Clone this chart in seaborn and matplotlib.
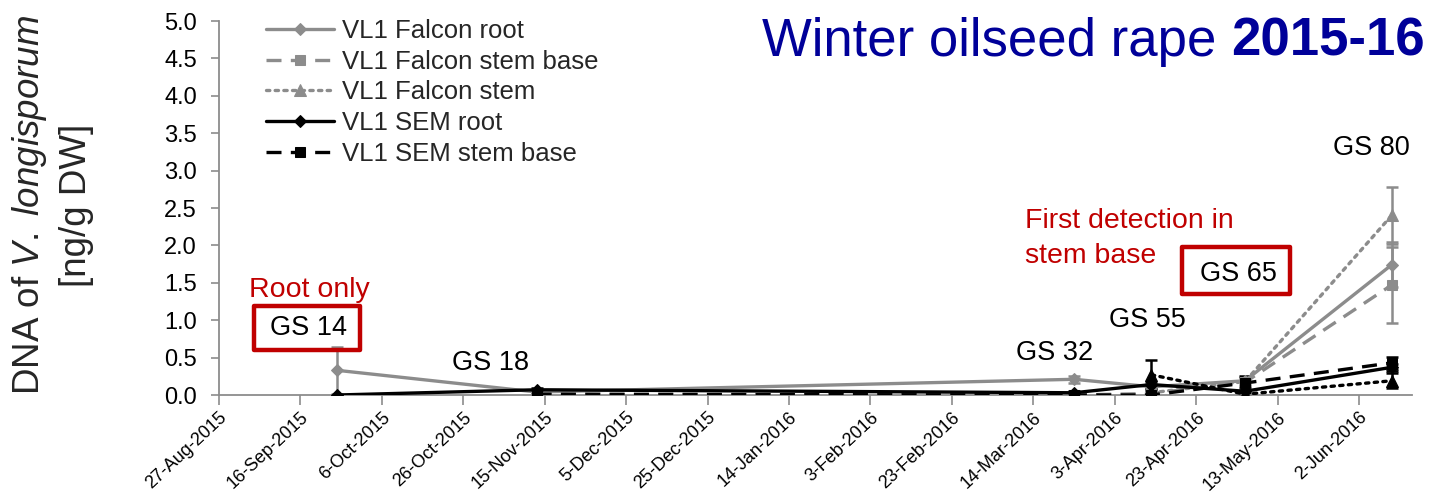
import numpy as np
import pandas as pd
import matplotlib
matplotlib.use("Agg")
import matplotlib.pyplot as plt
import matplotlib.dates as mdates
from matplotlib.patches import Rectangle
import seaborn as sns

# Sampling dates and growth stages
sample_dates = ["25-Sep-2015", "13-Nov-2015", "24-Mar-2016", "12-Apr-2016", "5-May-2016", "10-Jun-2016"]
growth_stages = ["GS 14", "GS 18", "GS 32", "GS 55", "GS 65", "GS 80"]

# V. longisporum DNA [ng/g DW], mean and error per sampling date
falcon_root = [0.33, 0.04, 0.21, 0.11, 0.19, 1.74]
falcon_root_err = [0.31, 0.02, 0.05, 0.02, 0.05, 0.30]
falcon_stem_base = [np.nan, 0.01, 0.00, 0.02, 0.17, 1.47]
falcon_stem_base_err = [np.nan, 0.01, 0.00, 0.01, 0.06, 0.51]
falcon_stem = [np.nan, np.nan, np.nan, 0.03, 0.18, 2.40]
falcon_stem_err = [np.nan, np.nan, np.nan, 0.02, 0.05, 0.38]
sem_root = [0.00, 0.07, 0.03, 0.14, 0.05, 0.37]
sem_root_err = [0.00, 0.02, 0.02, 0.04, 0.05, 0.05]
sem_stem_base = [np.nan, 0.01, 0.00, 0.00, 0.16, 0.43]
sem_stem_base_err = [np.nan, 0.01, 0.00, 0.01, 0.10, 0.08]
sem_stem = [np.nan, np.nan, np.nan, 0.27, 0.01, 0.19]
sem_stem_err = [np.nan, np.nan, np.nan, 0.20, 0.02, 0.10]

# Date axis tick labels
tick_labels = ["27-Aug-2015", "16-Sep-2015", "6-Oct-2015", "26-Oct-2015", "15-Nov-2015",
               "5-Dec-2015", "25-Dec-2015", "14-Jan-2016", "3-Feb-2016", "23-Feb-2016",
               "14-Mar-2016", "3-Apr-2016", "23-Apr-2016", "13-May-2016", "2-Jun-2016"]
x_end = "15-Jun-2016"

sns.set_theme(style="white")
plt.rcParams["font.family"] = ["Liberation Sans", "DejaVu Sans"]
plt.rcParams["mathtext.fontset"] = "custom"
plt.rcParams["mathtext.rm"] = "Liberation Sans"
plt.rcParams["mathtext.it"] = "Liberation Sans:italic"
plt.rcParams["mathtext.bf"] = "Liberation Sans:bold"

W, H = 1434, 494
fig = plt.figure(figsize=(W / 100, H / 100), dpi=100)
ax = fig.add_axes([219 / W, 1 - 395 / H, (1412 - 219) / W, (395 - 21) / H])

dates = pd.to_datetime(sample_dates, format="%d-%b-%Y")
ticks = pd.to_datetime(tick_labels, format="%d-%b-%Y")

GRAY = "#8C8C8C"
BLACK = "#000000"
dotted = (0, (1.0, 1.6))
dashed = (0, (4.5, 2.8))

series = [
    ("VL1 Falcon root", falcon_root, falcon_root_err, GRAY, "-", "D", 6),
    ("VL1 Falcon stem base", falcon_stem_base, falcon_stem_base_err, GRAY, dashed, "s", 7),
    ("VL1 Falcon stem", falcon_stem, falcon_stem_err, GRAY, dotted, "^", 8),
    ("VL1 SEM root", sem_root, sem_root_err, BLACK, "-", "D", 6),
    ("VL1 SEM stem base", sem_stem_base, sem_stem_base_err, BLACK, dashed, "s", 7),
    ("_VL1 SEM stem", sem_stem, sem_stem_err, BLACK, dotted, "^", 8),
]

for label, vals, errs, color, ls, mk, ms in series:
    df = pd.DataFrame({"date": dates, "dna": vals, "err": errs}).dropna()
    ax.errorbar(mdates.date2num(df["date"]), df["dna"], yerr=df["err"], fmt="none",
                ecolor=color, elinewidth=1.8, capsize=4.5, capthick=1.8, zorder=2)
    sns.lineplot(data=df, x="date", y="dna", ax=ax, color=color, linestyle=ls,
                 linewidth=2.4, marker=mk, markersize=ms, markeredgecolor=color,
                 markerfacecolor=color, label=label, estimator=None, sort=False,
                 zorder=3, dash_capstyle="round" if ls == dotted else "butt")

ax.set_ylim(0, 5.0)
ax.set_yticks(np.arange(0, 5.01, 0.5))
ax.set_yticklabels([f"{v:.1f}" for v in np.arange(0, 5.01, 0.5)], fontsize=17)
ax.set_xlim(ticks[0], pd.to_datetime(x_end, format="%d-%b-%Y"))
ax.set_xticks(ticks)
ax.set_xticklabels(tick_labels, rotation=43, ha="right", va="top",
                   rotation_mode="anchor", fontsize=13)
ax.set_xlabel("")
ax.set_ylabel("")

for side in ["top", "right"]:
    ax.spines[side].set_visible(False)
for side in ["left", "bottom"]:
    ax.spines[side].set_color("#8C8C8C")
    ax.spines[side].set_linewidth(1.3)
ax.tick_params(axis="y", which="major", direction="out", length=6, width=1.2,
               color="#8C8C8C", left=True, pad=10, labelcolor="black")
ax.tick_params(axis="x", which="major", direction="out", length=7, width=1.2,
               color="#8C8C8C", bottom=True, pad=3, labelcolor="black")
ax.grid(False)

handles, labels = ax.get_legend_handles_labels()
keep = [(h, l) for h, l in zip(handles, labels) if not l.startswith("_")]
ax.legend([h for h, _ in keep], [l for _, l in keep], loc="upper left",
          bbox_to_anchor=(266 / W, 1 - 19 / H), bbox_transform=fig.transFigure,
          frameon=False, fontsize=18.5, handlelength=2.65, handletextpad=0.3,
          labelspacing=0.26, borderpad=0, borderaxespad=0, numpoints=1)

def px(x, y):
    return x / W, 1 - y / H

# Title: regular part followed by the bold season
TITLE_BLUE = "#000099"
bold_part = fig.text(*px(1425, 42), "2015-16", ha="right", va="center", fontsize=38,
                     fontweight="bold", color=TITLE_BLUE)
fig.canvas.draw()
bb = bold_part.get_window_extent(fig.canvas.get_renderer())
fig.text(bb.x0 / W, 1 - 42 / H, "Winter oilseed rape ", ha="right", va="center",
         fontsize=38, color=TITLE_BLUE)

# Y-axis title
fig.text(*px(30, 205), r"DNA of $\mathit{V.\ longisporum}$", rotation=90, ha="center",
         va="center", fontsize=26.5)
fig.text(*px(77, 205), "[ng/g DW]", rotation=90, ha="center", va="center", fontsize=26.5)

# Growth-stage labels
gs_pos = [(308, 328), (490, 363), (1055, 353), (1147, 320), (1238, 274), (1371, 148)]
for txt, (x, y) in zip(growth_stages, gs_pos):
    fig.text(*px(x, y), txt, ha="center", va="center", fontsize=19.5, color="black")

RED = "#C00000"
for (x0, y0, x1, y1) in [(254, 306, 360, 350), (1182, 247, 1290, 294)]:
    fig.patches.append(Rectangle(px(x0, y1), (x1 - x0) / W, (y1 - y0) / H,
                                 transform=fig.transFigure, fill=False,
                                 edgecolor=RED, linewidth=3.2, joinstyle="round"))

fig.text(*px(309, 290), "Root only", ha="center", va="center", fontsize=20.5, color=RED)
fig.text(*px(1025, 221), "First detection in", ha="left", va="center", fontsize=20.5, color=RED)
fig.text(*px(1025, 256), "stem base", ha="left", va="center", fontsize=20.5, color=RED)

fig.savefig("out.png", dpi=100)
